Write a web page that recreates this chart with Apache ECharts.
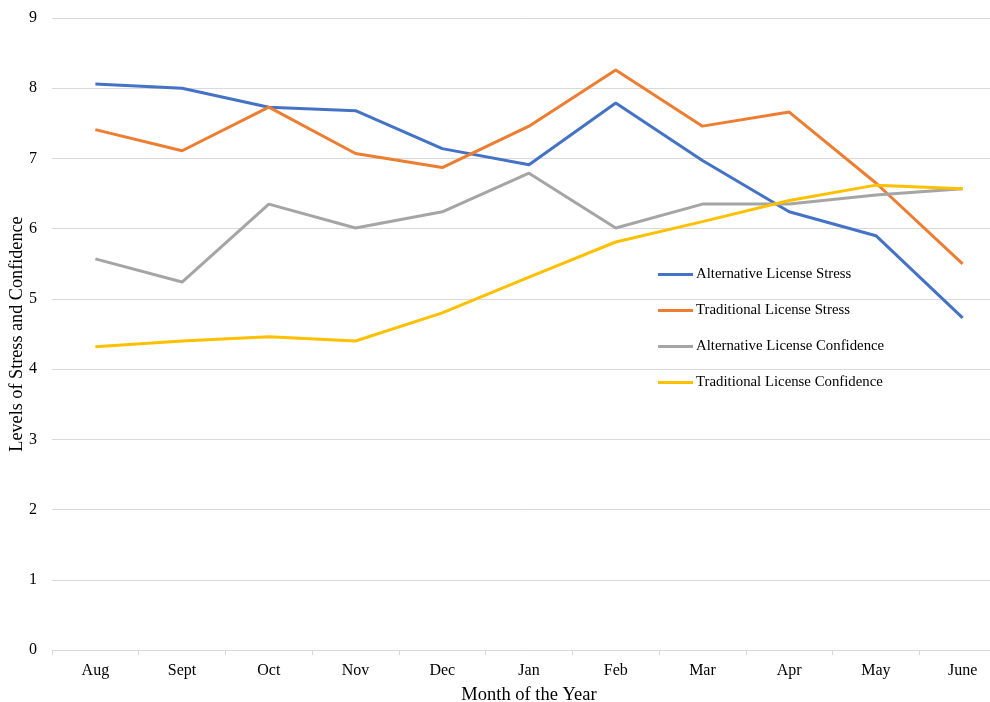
<!DOCTYPE html>
<html>
<head>
<meta charset="utf-8">
<script src="https://cdn.jsdelivr.net/npm/echarts@6/dist/echarts.min.js"></script>
<style>
    html, body { margin: 0; padding: 0; background: #fff; }
    #chart { width: 990px; height: 702px; }
</style>
</head>
<body>
<div id="chart"></div>
<script>
// 数据
var months = ['Aug', 'Sept', 'Oct', 'Nov', 'Dec', 'Jan', 'Feb', 'Mar', 'Apr', 'May', 'June'];
var altStress = [8.06, 8.0, 7.73, 7.68, 7.14, 6.91, 7.79, 6.97, 6.24, 5.9, 4.73];
var tradStress = [7.41, 7.11, 7.73, 7.07, 6.87, 7.46, 8.26, 7.46, 7.66, 6.65, 5.5];
var altConfidence = [5.57, 5.24, 6.35, 6.01, 6.24, 6.79, 6.01, 6.35, 6.35, 6.48, 6.57];
var tradConfidence = [4.32, 4.4, 4.46, 4.4, 4.8, 5.31, 5.81, 6.1, 6.4, 6.62, 6.57];
var yTicks = [0, 1, 2, 3, 4, 5, 6, 7, 8, 9];

var fontFamily = '"Liberation Serif", "Times New Roman", serif';

function makeLine(name, data, color) {
    return {
        name: name,
        type: 'line',
        data: data,
        symbol: 'none',
        lineStyle: {width: 3, color: color},
        itemStyle: {color: color}
    };
}

var myChart = echarts.init(document.getElementById('chart'));

myChart.setOption({
    animation: false,
    textStyle: {fontFamily: fontFamily},
    grid: {left: 52, right: -16, top: 18, bottom: 52, outerBoundsMode: 'none', containLabel: false},
    legend: {
        orient: 'vertical',
        left: 658,
        top: 267,
        padding: 0,
        itemGap: 21,
        itemWidth: 35,
        itemHeight: 3,
        icon: 'rect',
        textStyle: {fontFamily: fontFamily, fontSize: 14.8, color: '#000', padding: [0, 0, 0, -2]},
        data: ['Alternative License Stress', 'Traditional License Stress',
            'Alternative License Confidence', 'Traditional License Confidence']
    },
    xAxis: {
        type: 'category',
        data: months,
        boundaryGap: true,
        name: 'Month of the Year',
        nameLocation: 'middle',
        nameGap: 36,
        nameTextStyle: {fontFamily: fontFamily, fontSize: 18.5, color: '#000'},
        axisLine: {lineStyle: {color: '#d9d9d9', width: 1}},
        axisTick: {show: true, length: 5, lineStyle: {color: '#d9d9d9'}},
        axisLabel: {fontFamily: fontFamily, fontSize: 16, color: '#000', margin: 13}
    },
    yAxis: {
        type: 'value',
        min: yTicks[0],
        max: yTicks[yTicks.length - 1],
        interval: 1,
        name: 'Levels of Stress and Confidence',
        nameLocation: 'middle',
        nameGap: 26,
        nameMoveOverlap: false,
        nameTextStyle: {fontFamily: fontFamily, fontSize: 18.2, color: '#000'},
        axisLine: {show: false},
        axisTick: {show: false},
        axisLabel: {fontFamily: fontFamily, fontSize: 16, color: '#000', margin: 15},
        splitLine: {lineStyle: {color: '#d9d9d9', width: 1}}
    },
    series: [
        makeLine('Alternative License Stress', altStress, '#4472C4'),
        makeLine('Traditional License Stress', tradStress, '#ED7D31'),
        makeLine('Alternative License Confidence', altConfidence, '#A5A5A5'),
        makeLine('Traditional License Confidence', tradConfidence, '#FFC000')
    ]
});
</script>
</body>
</html>
